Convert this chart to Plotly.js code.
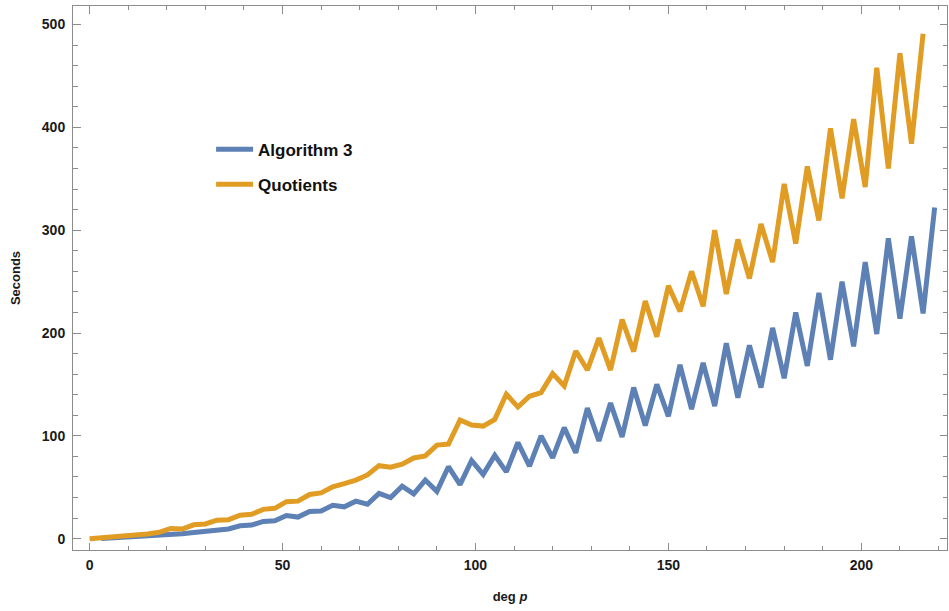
<!DOCTYPE html>
<html>
<head>
<meta charset="utf-8">
<script src="https://cdn.plot.ly/plotly-3.0.1.min.js"></script>
<style>html,body{margin:0;padding:0;background:#fff;}#chart{width:949px;height:611px;}</style>
</head>
<body>
<div id="chart"></div>
<script>
// Degrees (x values)
var degAlgorithm3 = [3,6,9,12,15,18,21,24,27,30,33,36,39,42,45,48,51,54,57,60,63,66,69,72,75,78,81,84,87,90,93,96,99,102,105,108,111,114,117,120,123,126,129,132,135,138,141,144,147,150,153,156,159,162,165,168,171,174,177,180,183,186,189,192,195,198,201,204,207,210,213,216,219];
var secAlgorithm3 = [0.3,0.8,1.3,1.9,2.6,3.4,4.3,4.8,6.0,6.8,8.6,9.5,12.5,13.2,16.8,17.5,22.5,21,26.5,27,32.5,31,36.5,33.5,44,40,51,43.5,57,46,70,52.5,76,62.5,81,65,93.5,70.5,100,78.5,108,83.5,127,95,132,99,147,110,150,119,169,126,171,129,190,137,188,147,205,156,220,168,239,174,250,187,269,199,292,214,294,219,322];

var degQuotients = [0,3,6,9,12,15,18,21,24,27,30,33,36,39,42,45,48,51,54,57,60,63,66,69,72,75,78,81,84,87,90,93,96,99,102,105,108,111,114,117,120,123,126,129,132,135,138,141,144,147,150,153,156,159,162,165,168,171,174,177,180,183,186,189,192,195,198,201,204,207,210,213,216];
var secQuotients = [0,0.8,1.5,2.3,3.4,4.6,6.2,10,9.4,13.5,14.3,18,18.5,22.8,23.7,28.5,29.5,36,36.5,43,44.5,50.5,53.5,57,62,71,69.5,72.5,78.5,80.5,91,92,115.5,110.5,109.5,116,140.5,128,138.5,142,160.5,148.5,182.5,164,195,164,213,182,231,196.5,246,221,260,226,300,238,291,253,306,269,345,287,362,309.5,399,331,408,342,458,360,472,384,491];

var seriesNames = ["Algorithm 3", "Quotients"];
var xTickVals = [0,50,100,150,200];
var yTickVals = [0,100,200,300,400,500];

var font = "'Liberation Sans', Arial, Helvetica, sans-serif";

var traces = [
  {x: degAlgorithm3, y: secAlgorithm3, name: seriesNames[0], type: 'scatter', mode: 'lines',
   line: {color: '#5E81B5', width: 5, shape: 'linear'}, legendgroup: 'a'},
  {x: degQuotients, y: secQuotients, name: seriesNames[1], type: 'scatter', mode: 'lines',
   line: {color: '#E19C24', width: 5, shape: 'linear'}, legendgroup: 'b'}
];

var axisCommon = {
  showgrid: false, zeroline: false,
  showline: true, linecolor: '#8c8c8c', linewidth: 1, mirror: 'allticks',
  ticks: 'inside', ticklen: 7.5, tickwidth: 1, tickcolor: '#8c8c8c',
  tickfont: {family: font, size: 14, color: '#1a1a1a', weight: 'bold'},
  automargin: false
};

var layout = {
  width: 949, height: 611,
  margin: {l: 73, r: 2, t: 6, b: 61},
  paper_bgcolor: '#ffffff', plot_bgcolor: '#ffffff',
  showlegend: true,
  legend: {x: 0.158, y: 0.769, xanchor: 'left', yanchor: 'top', bgcolor: 'rgba(0,0,0,0)',
           font: {family: font, size: 17, color: '#111', weight: 'bold'},
           tracegroupgap: 10, traceorder: 'grouped', itemwidth: 37},
  xaxis: Object.assign({}, axisCommon, {
    range: [-4.3, 222.2], tickvals: xTickVals, ticklabelstandoff: 2,
    minor: {dtick: 10, tick0: 0, ticks: 'inside', ticklen: 4, tickcolor: '#8c8c8c', showgrid: false},
    title: {text: 'deg <i>p</i>', standoff: 20, font: {family: font, size: 13, color: '#1a1a1a', weight: 'bold'}}
  }),
  yaxis: Object.assign({}, axisCommon, {
    range: [-11, 518], tickvals: yTickVals, ticklabelstandoff: 4,
    minor: {dtick: 20, tick0: 0, ticks: 'inside', ticklen: 4.5, tickcolor: '#8c8c8c', showgrid: false},
    title: {text: 'Seconds', standoff: 18, font: {family: font, size: 13, color: '#1a1a1a', weight: 'bold'}}
  })
};

Plotly.newPlot('chart', traces, layout, {staticPlot: true, displayModeBar: false});
</script>
</body>
</html>
